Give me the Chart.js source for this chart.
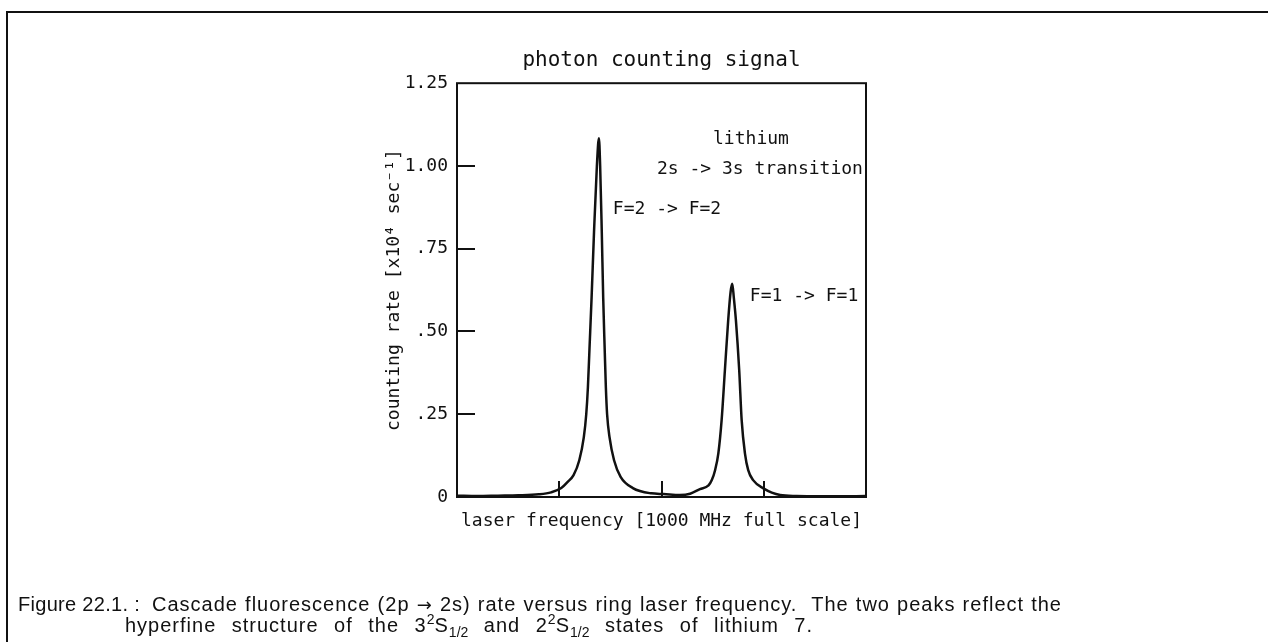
<!DOCTYPE html>
<html>
<head>
<meta charset="utf-8">
<title>photon counting signal</title>
<script src="https://cdn.jsdelivr.net/npm/chart.js"></script>
<style>
  html, body { margin: 0; padding: 0; background: #fff; }
  body { width: 1268px; height: 642px; position: relative; overflow: hidden; }
  #frame {
    position: absolute; left: 6px; top: 11px; width: 1262px; height: 631px;
    border-left: 2px solid #111; border-top: 2px solid #111;
  }
  #chart-wrap { position: absolute; left: 0; top: 0; width: 1268px; height: 642px; }
  .caption {
    position: absolute; font-family: "Liberation Sans", Arial, sans-serif;
    font-size: 20px; line-height: 22px; color: #111;
  }
  .caption.just { letter-spacing: 1px; text-align: justify; text-align-last: justify; }
  .caption .arrow { font-family: "DejaVu Sans", sans-serif; font-size: 18px; }
  .caption sup, .caption sub { font-size: 14px; line-height: 0; letter-spacing: 0; }
</style>
</head>
<body>
<div id="frame"></div>
<div id="chart-wrap"><canvas id="signal-chart"></canvas></div>

<div class="caption" style="left:18px; top:593px; white-space:nowrap; letter-spacing:0.3px;">Figure 22.1. :</div>
<div class="caption just" style="left:152px; top:593px; width:910px;">Cascade fluorescence (2p <span class="arrow">&rarr;</span> 2s) rate versus ring laser frequency.&nbsp; The two peaks reflect the</div>
<div class="caption just" style="left:125px; top:614px; width:688px;">hyperfine structure of the 3<sup>2</sup>S<sub>1/2</sub> and 2<sup>2</sup>S<sub>1/2</sub> states of lithium 7.</div>

<script>
// -------- data -------- //

// laser frequency (MHz, 1000 MHz full scale)
const freqMHz = [0, 50, 100, 150, 200, 230, 255, 270, 285, 299,
    310, 316, 320, 324, 329, 335, 342, 347, 350, 354,
    357.5, 361, 364, 367, 373, 384, 400, 430, 475, 505,
    545, 570, 594, 615, 623, 631, 639, 647, 655, 663,
    669, 673, 677, 682, 690, 696, 704, 712, 724, 749,
    790, 830, 880, 930, 1000];

// counting rate (x10^4 sec^-1)
const countRate = [0.004, 0.003, 0.004, 0.005, 0.008, 0.014, 0.027, 0.045, 0.066, 0.111,
    0.180, 0.250, 0.330, 0.450, 0.600, 0.800, 1.000, 1.084, 1.000, 0.800,
    0.600, 0.450, 0.330, 0.250, 0.180, 0.111, 0.061, 0.027, 0.011, 0.009,
    0.006, 0.010, 0.024, 0.035, 0.051, 0.081, 0.132, 0.232, 0.383, 0.533,
    0.620, 0.644, 0.600, 0.533, 0.383, 0.232, 0.132, 0.081, 0.051, 0.026,
    0.006, 0.003, 0.002, 0.002, 0.003];

// y tick labels, bottom to top
const yTickLabels = ['0', '.25', '.50', '.75', '1.00', '1.25'];

// short inward tick marks
const yTickMarks = [0.25, 0.5, 0.75, 1.0];
const xTickMarks = [250, 500, 750];

// text notes inside the plot (anchored in data units)
const noteTexts = ['lithium', '2s -> 3s transition', 'F=2 -> F=2', 'F=1 -> F=1'];
const noteFreq = [626, 489, 381, 716];
const noteRate = [1.066, 0.976, 0.855, 0.593];

// -------- plot frame, inward ticks and notes -------- //
const plotDecor = {
    id: 'plotDecor',
    afterDatasetsDraw(chart) {
        const { ctx, chartArea: a, scales: { x, y } } = chart;
        ctx.save();
        ctx.strokeStyle = '#111';
        ctx.lineWidth = 2;
        ctx.strokeRect(a.left, a.top, a.right - a.left, a.bottom - a.top);

        ctx.beginPath();
        yTickMarks.forEach(v => {
            const py = Math.round(y.getPixelForValue(v));
            ctx.moveTo(a.left, py);
            ctx.lineTo(a.left + 18, py);
        });
        xTickMarks.forEach(v => {
            const px = Math.round(x.getPixelForValue(v));
            ctx.moveTo(px, a.bottom);
            ctx.lineTo(px, a.bottom - 16);
        });
        ctx.stroke();

        ctx.fillStyle = '#111';
        ctx.font = '18px "DejaVu Sans Mono"';
        ctx.textBaseline = 'alphabetic';
        noteTexts.forEach((t, i) => {
            ctx.fillText(t, x.getPixelForValue(noteFreq[i]), y.getPixelForValue(noteRate[i]));
        });
        ctx.restore();
    }
};

const monoFont = { family: '"DejaVu Sans Mono", monospace', size: 18 };

const signalCanvas = document.getElementById('signal-chart');

let signalChart = new Chart(signalCanvas, {
    type: 'line',
    data: {
        datasets: [{
            data: freqMHz.map((f, i) => ({ x: f, y: countRate[i] })),
            borderColor: '#111',
            borderWidth: 2.5,
            pointRadius: 0,
            fill: false,
            cubicInterpolationMode: 'monotone'
        }]
    },
    options: {
        responsive: true,
        maintainAspectRatio: false,
        animation: false,
        layout: {
            padding: { left: 360, right: 402, top: 40, bottom: 105 }
        },
        scales: {
            x: {
                type: 'linear',
                min: 0,
                max: 1000,
                grid: { display: false },
                border: { display: false },
                ticks: { display: false, stepSize: 250 },
                title: {
                    display: true,
                    text: 'laser frequency [1000 MHz full scale]',
                    color: '#111',
                    font: monoFont,
                    padding: { top: 0, bottom: 5 }
                },
                afterFit: scale => { scale.height = 40; }
            },
            y: {
                min: 0,
                max: 1.25,
                grid: { display: false, drawTicks: false },
                border: { display: false },
                ticks: {
                    stepSize: 0.25,
                    autoSkip: false,
                    padding: 9,
                    color: '#111',
                    font: monoFont,
                    callback: (v, i) => yTickLabels[i]
                },
                title: {
                    display: true,
                    text: 'counting rate [x10\u2074 sec\u207B\u00B9]',
                    color: '#111',
                    font: monoFont,
                    padding: { top: 24, bottom: 0 }
                },
                afterFit: scale => { scale.width = 97; }
            }
        },
        plugins: {
            legend: { display: false },
            tooltip: { enabled: false },
            title: {
                display: true,
                text: 'photon counting signal',
                fullSize: false,
                color: '#111',
                font: { family: '"DejaVu Sans Mono", monospace', size: 21, weight: 'normal' },
                padding: { top: 8, bottom: 10 }
            }
        }
    },
    plugins: [plotDecor]
});
</script>
</body>
</html>
